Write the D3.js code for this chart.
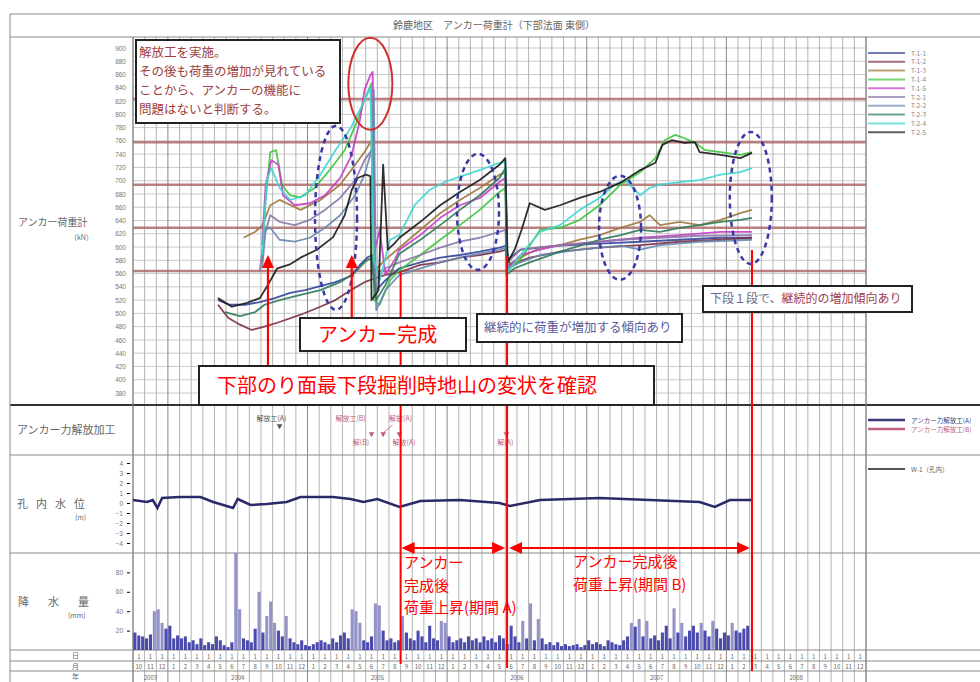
<!DOCTYPE html>
<html>
<head>
<meta charset="utf-8">
<script src="https://cdn.jsdelivr.net/npm/d3@7"></script>
<style>
  body { margin: 0; background: #fff; }
  svg { display: block; font-family: "Noto Sans CJK JP", "Noto Sans", sans-serif; }
</style>
</head>
<body>
<svg id="chart" width="980" height="682"></svg>
<script>
// month index 0 = 2003-10, one grid column per month
var startMonth = 10;
var yearNames = ["2003", "2004", "2005", "2006", "2007", "2008"];
var yearStarts = [0, 3, 15, 27, 39, 51, 63];

var gaugeNames = ["T-1-1", "T-1-2", "T-1-3", "T-1-4", "T-1-5", "T-2-1", "T-2-2", "T-2-3", "T-2-4", "T-2-5"];
var gaugeColors = ["#34449a", "#7a3040", "#a0783c", "#3ec43e", "#c63cc6", "#8a76a8", "#6a88b0", "#2e7a5a", "#3fd6d0", "#1a1a1a"];

// anchor load (kN) : [month index, value]
var loadT1 = [[7.3,520],[8.3,513],[9.6,513],[10.9,517],[12.2,523],[13.5,531],[14.8,535],[16.1,541],[17.4,547],[18.7,556],[19.5,573],[20.2,585],[20.6,588],[20.9,535],[21.7,550],[22.9,568],[24.7,577],[26.4,584],[28.1,588],[29.8,593],[31.5,599],[32.1,602],[32.2,581],[33.3,596],[35.0,599],[36.7,602],[40.1,605],[43.6,608],[47.0,611],[50.5,614],[53.2,614]];
var loadT2 = [[7.3,513],[8.2,493],[9.2,483],[10.2,475],[11.3,480],[12.6,487],[14.4,498],[16.1,510],[17.4,520],[18.7,535],[19.9,547],[20.8,553],[21.7,558],[22.9,562],[24.7,573],[26.4,577],[28.1,584],[29.8,588],[31.5,593],[32.1,596],[32.4,573],[34.1,584],[36.7,593],[40.1,599],[43.6,603],[47.0,608],[50.5,611],[53.2,614]];
var loadT3 = [[9.5,614],[10.5,623],[11.1,632],[11.8,663],[12.6,671],[14.4,656],[16.1,671],[17.8,694],[19.1,724],[20.0,746],[20.5,761],[20.8,565],[21.7,581],[22.9,599],[24.7,626],[26.4,651],[28.1,671],[29.8,689],[31.5,709],[32.0,712],[32.2,573],[33.3,584],[35.0,599],[36.7,603],[38.4,611],[40.1,618],[41.9,629],[43.6,638],[44.4,648],[45.3,633],[47.0,638],[48.7,633],[50.5,641],[52.2,651],[53.2,656]];
var loadT4 = [[11.1,577],[11.4,671],[11.8,743],[12.3,746],[12.8,694],[13.5,678],[14.4,675],[15.6,689],[16.9,716],[18.2,746],[19.3,791],[19.9,822],[20.5,847],[20.7,520],[21.2,513],[22.1,550],[22.9,565],[24.7,588],[26.4,611],[28.1,633],[29.8,656],[31.5,683],[32.0,689],[32.2,565],[33.3,581],[35.0,626],[36.7,629],[38.4,641],[40.1,663],[41.9,694],[43.6,713],[44.9,734],[45.7,761],[46.6,769],[47.4,764],[48.3,757],[49.2,746],[50.5,743],[52.2,739],[53.2,743]];
var loadT5 = [[11.1,603],[11.4,694],[11.9,731],[12.5,724],[12.9,678],[13.9,663],[15.2,666],[16.5,678],[17.8,704],[18.8,739],[19.5,791],[19.9,837],[20.4,859],[20.6,864],[20.8,596],[21.2,626],[21.7,558],[22.5,581],[22.9,596],[24.7,618],[26.4,644],[28.1,663],[29.8,674],[31.5,698],[32.0,704],[32.2,568],[33.3,588],[35.0,596],[36.7,603],[40.1,608],[43.6,614],[47.0,618],[50.5,623],[53.2,623]];
var loadT6 = [[10.9,565],[11.3,618],[11.8,648],[12.6,638],[13.9,633],[15.2,641],[16.5,656],[17.8,674],[19.1,701],[19.9,731],[20.5,746],[20.8,550],[21.7,568],[22.9,577],[24.7,588],[26.4,599],[28.1,608],[29.8,614],[31.5,623],[32.0,626],[32.2,577],[33.3,596],[35.0,600],[38.4,605],[41.9,611],[45.3,614],[48.7,617],[53.2,618]];
var loadT7 = [[11.1,568],[11.4,626],[11.8,629],[12.6,611],[13.9,608],[15.2,614],[16.5,629],[17.8,648],[19.1,678],[19.9,709],[20.5,746],[20.7,837],[20.9,505],[21.7,535],[22.9,558],[24.7,568],[26.4,577],[28.1,584],[29.8,590],[31.5,596],[32.0,599],[32.2,568],[33.3,577],[35.0,588],[38.4,596],[41.9,602],[43.6,596],[45.3,603],[48.7,608],[53.2,611]];
var loadT8 = [[7.9,502],[9.2,496],[10.5,502],[11.3,513],[12.6,520],[14.4,528],[16.1,535],[17.8,547],[19.1,562],[19.9,577],[20.5,584],[20.9,520],[21.7,543],[22.9,590],[24.7,611],[26.4,633],[28.1,656],[29.8,678],[31.5,704],[32.0,719],[32.1,558],[32.8,568],[34.1,577],[36.7,593],[40.1,611],[41.9,618],[43.6,626],[45.3,623],[47.0,629],[48.7,633],[50.5,638],[52.2,641],[53.2,644]];
var loadT9 = [[11.1,588],[11.5,701],[11.9,719],[12.6,689],[13.5,671],[14.8,678],[16.1,709],[17.4,746],[18.7,779],[19.7,814],[20.4,840],[20.7,581],[21.2,550],[22.1,611],[22.9,618],[24.2,663],[25.5,686],[26.8,698],[28.1,706],[29.8,716],[31.5,727],[32.0,728],[32.2,562],[32.8,577],[33.7,596],[35.0,623],[36.7,633],[38.4,656],[40.1,674],[41.4,694],[42.3,701],[43.6,678],[44.4,689],[45.3,694],[47.0,698],[48.7,701],[50.5,709],[52.2,713],[53.2,719]];
var loadT10 = [[7.3,523],[8.5,510],[9.8,516],[10.9,523],[11.5,540],[12.4,568],[13.5,574],[14.4,584],[15.8,596],[17.2,615],[18.2,648],[18.8,686],[19.3,704],[20.0,709],[20.4,707],[20.5,520],[21.1,535],[21.5,724],[21.9,596],[22.5,606],[22.9,614],[24.7,638],[26.4,663],[28.1,683],[29.8,701],[31.5,724],[32.0,734],[32.2,577],[32.8,596],[33.4,626],[34.1,666],[35.4,656],[36.7,663],[38.4,674],[40.1,683],[41.9,697],[43.6,716],[44.9,727],[45.5,754],[46.3,761],[47.4,757],[48.3,758],[48.7,743],[50.5,739],[52.2,734],[53.2,742]];
var loadSeries = [loadT1, loadT2, loadT3, loadT4, loadT5, loadT6, loadT7, loadT8, loadT9, loadT10];

// control levels drawn as brown lines (kN)
var controlLevels = [823, 758, 694, 629, 564];

// borehole water level (m)
var waterLevel = [[0,0.3],[1.2,0.1],[1.7,0.3],[2.1,-0.5],[2.5,0.5],[4.0,0.6],[5.8,0.6],[6.9,0.1],[8.6,-0.5],[9.0,0.4],[10.1,-0.2],[11.5,-0.1],[13.2,0.1],[14.4,0.6],[17.2,0.6],[18.7,0.4],[19.8,0.1],[21.0,0.4],[22.9,-0.4],[24.7,0.2],[28.1,0.3],[31.5,0.0],[32.4,-0.3],[35.0,0.3],[40.1,0.5],[44.4,0.3],[48.7,0.1],[50.0,-0.4],[51.3,0.3],[53.2,0.3]];

// precipitation (mm), three values per month from 2003-10
var rainfall = [18,15,14, 12,16,40, 42,28,22, 25,12,15, 12,14,8, 10,6,12, 5,8,6, 14,10,5, 3,8,100,
  42,12,10, 8,22,60, 18,35,50, 28,20,14, 35,12,8, 6,10,5, 4,6,8, 10,8,6, 12,8,15, 18,12,42,
  40,28,10, 8,14,48, 46,20,10, 12,8,10, 35,18,12, 10,20,14, 8,25,12, 10,30,28, 14,8,10,
  12,8,14, 10,12,8, 14,10,12, 8,15,12, 6,25,14, 8,30,12, 48,10,32, 12,6,8, 5,8,4, 6,4,5,
  6,3,5, 10,6,8, 6,4,10, 8,6,5, 10,14,28, 24,32,14, 30,12,15, 10,18,25, 12,43,18, 28,14,20,
  25,18,28, 20,14,30, 22,12,18, 15,28,20, 18,22,25];

// events (month index)
var arrowMonths = [11.6, 18.8];
var periodLines = [23.0, 32.15, 53.2];
var releaseTop = [[11.9, "解放工(A)", 0], [18.7, "解放工(B)", 1], [23.0, "解放(A)", 1]];
var releaseBottom = [[19.6, "解(B)", 1], [23.3, "解放(A)", 1], [32.0, "解(A)", 1]];
var releaseMarks = [12.6, 20.5, 21.5, 22.9, 32.1];

(function() {
  var svg = d3.select("#chart");
  var left = 133, right = 866;

  var x = d3.scaleLinear().domain([0, 63]).range([left, right]);
  var yLoad = d3.scaleLinear().domain([380, 900]).range([393, 48]);
  var yWater = d3.scaleLinear().domain([-4, 4]).range([543, 463]);
  var yRain = d3.scaleLinear().domain([0, 100]).range([650, 553]);

  var grid = svg.append("g");
  // horizontal grid in main panel
  grid.selectAll("line.h")
    .data(d3.range(380, 901, 20))
    .enter().append("line")
      .attr("x1", left).attr("x2", right)
      .attr("y1", function(d) { return yLoad(d); })
      .attr("y2", function(d) { return yLoad(d); })
      .attr("stroke", "#c9c9c9").attr("stroke-width", 1);
  // month columns
  grid.selectAll("line.v")
    .data(d3.range(0, 64))
    .enter().append("line")
      .attr("x1", function(d) { return x(d); })
      .attr("x2", function(d) { return x(d); })
      .attr("y1", 37).attr("y2", 682)
      .attr("stroke", function(d) { return yearStarts.indexOf(d) >= 0 ? "#888" : "#b4b4b4"; })
      .attr("stroke-width", 1);

  // frame
  var frame = svg.append("g").attr("stroke", "#8a8a8a").attr("fill", "none");
  [14, 37, 455, 553, 650, 661, 671].forEach(function(yy) {
    frame.append("line").attr("x1", 10).attr("x2", 980).attr("y1", yy).attr("y2", yy);
  });
  frame.append("line").attr("x1", 10).attr("x2", 980).attr("y1", 405).attr("y2", 405)
    .attr("stroke", "#333").attr("stroke-width", 2);
  [10, left, right].forEach(function(xx) {
    frame.append("line").attr("x1", xx).attr("x2", xx).attr("y1", xx === 10 ? 14 : 37).attr("y2", 682);
  });

  // title
  svg.append("text").attr("x", 494).attr("y", 29).attr("text-anchor", "middle")
    .attr("font-size", 10).attr("fill", "#666")
    .text("鈴鹿地区　アンカー荷重計（下部法面 東側）");

  // left labels
  var lab = svg.append("g").attr("fill", "#666");
  lab.append("text").attr("x", 18).attr("y", 226).attr("font-size", 10).text("アンカー荷重計");
  lab.append("text").attr("x", 70).attr("y", 240).attr("font-size", 7).text("（kN）");
  lab.append("text").attr("x", 17).attr("y", 434).attr("font-size", 11).text("アンカー力解放加工");
  lab.append("text").attr("x", 17).attr("y", 508).attr("font-size", 11).attr("letter-spacing", 8).text("孔内水位");
  lab.append("text").attr("x", 75).attr("y", 520).attr("font-size", 7).text("(m)");
  lab.append("text").attr("x", 18).attr("y", 606).attr("font-size", 11).attr("letter-spacing", 19).text("降水量");
  lab.append("text").attr("x", 68).attr("y", 618).attr("font-size", 7).text("(mm)");
  ["日", "月", "年"].forEach(function(t, i) {
    lab.append("text").attr("x", 72).attr("y", 658 + i * 10.5).attr("font-size", 7).text(t);
  });

  // axes
  function styleAxis(g) {
    g.select(".domain").remove();
    g.selectAll("text").attr("fill", "#777").attr("font-size", 6.5);
  }
  svg.append("g").attr("transform", "translate(" + (left - 3) + ",0)")
    .call(d3.axisLeft(yLoad).tickValues(d3.range(380, 901, 20)).tickSize(0).tickPadding(4))
    .call(styleAxis);
  svg.append("g").attr("transform", "translate(" + (left - 3) + ",0)")
    .call(d3.axisLeft(yWater).tickValues(d3.range(-4, 5, 1)).tickSize(3).tickPadding(4))
    .call(styleAxis);
  svg.append("g").attr("transform", "translate(" + (left - 3) + ",0)")
    .call(d3.axisLeft(yRain).tickValues([20, 40, 60, 80]).tickSize(3).tickPadding(4))
    .call(styleAxis);

  // control level lines
  svg.selectAll("line.level")
    .data(controlLevels)
    .enter().append("line")
      .attr("x1", left).attr("x2", right)
      .attr("y1", function(d) { return yLoad(d); })
      .attr("y2", function(d) { return yLoad(d); })
      .attr("stroke", "#b06a6a").attr("stroke-width", 2.5).attr("opacity", 0.85);

  // date rows
  var dates = svg.append("g").attr("fill", "#666").attr("font-size", 6).attr("text-anchor", "middle");
  d3.range(0, 63).forEach(function(m) {
    dates.append("text").attr("x", x(m + 0.5)).attr("y", 658.5).text("1");
    dates.append("text").attr("x", x(m + 0.5)).attr("y", 669).text((startMonth - 1 + m) % 12 + 1);
  });
  yearNames.forEach(function(name, i) {
    dates.append("text").attr("x", x((yearStarts[i] + yearStarts[i + 1]) / 2)).attr("y", 680).text(name);
  });

  // rainfall bars
  svg.append("g").selectAll("rect")
    .data(rainfall)
    .enter().append("rect")
      .attr("x", function(d, i) { return x(i / 3) + 0.4; })
      .attr("width", x(1 / 3) - x(0) - 0.8)
      .attr("y", function(d) { return yRain(d); })
      .attr("height", function(d) { return yRain(0) - yRain(d); })
      .attr("fill", function(d) { return d > 25 ? "#8080c0" : "#2c2ca0"; })
      .attr("opacity", 0.85);

  // water level
  var lineW = d3.line().x(function(d) { return x(d[0]); }).y(function(d) { return yWater(d[1]); });
  svg.append("path").datum(waterLevel)
    .attr("d", lineW).attr("fill", "none")
    .attr("stroke", "#2a2a6a").attr("stroke-width", 2.5);

  // anchor loads
  var lineL = d3.line().x(function(d) { return x(d[0]); }).y(function(d) { return yLoad(d[1]); });
  svg.append("g").selectAll("path")
    .data(loadSeries)
    .enter().append("path")
      .attr("d", lineL)
      .attr("fill", "none")
      .attr("stroke", function(d, i) { return gaugeColors[i]; })
      .attr("stroke-width", 1.8)
      .attr("stroke-linejoin", "round")
      .attr("opacity", 0.9);

  // legends
  var leg = svg.append("g");
  gaugeNames.forEach(function(name, i) {
    var yy = 53 + i * 8.8;
    leg.append("line").attr("x1", 868).attr("x2", 905).attr("y1", yy).attr("y2", yy)
      .attr("stroke", gaugeColors[i]).attr("stroke-width", 2).attr("opacity", 0.7);
    leg.append("text").attr("x", 911).attr("y", yy + 2.5).attr("font-size", 6.5).attr("fill", "#888").text(name);
  });
  [["アンカー力解放工(A)", "#3a3a7a", 420], ["アンカー力解放工(B)", "#c06080", 429]].forEach(function(d) {
    leg.append("line").attr("x1", 868).attr("x2", 905).attr("y1", d[2]).attr("y2", d[2])
      .attr("stroke", d[1]).attr("stroke-width", 2.5);
    leg.append("text").attr("x", 911).attr("y", d[2] + 2.5).attr("font-size", 6.5).attr("fill", d[1]).text(d[0]);
  });
  leg.append("line").attr("x1", 868).attr("x2", 905).attr("y1", 469).attr("y2", 469)
    .attr("stroke", "#555").attr("stroke-width", 2);
  leg.append("text").attr("x", 911).attr("y", 471.5).attr("font-size", 6.5).attr("fill", "#666").text("W-1（孔内）");

  // release events
  var rel = svg.append("g").attr("font-size", 7).attr("text-anchor", "middle");
  releaseTop.forEach(function(d) {
    rel.append("text").attr("x", x(d[0])).attr("y", 421).attr("fill", d[2] ? "#c06080" : "#555").text(d[1]);
  });
  releaseBottom.forEach(function(d) {
    rel.append("text").attr("x", x(d[0])).attr("y", 445).attr("fill", "#c06080").text(d[1]);
  });
  releaseMarks.forEach(function(m, i) {
    rel.append("path")
      .attr("d", d3.symbol().type(d3.symbolTriangle).size(14)())
      .attr("transform", "translate(" + x(m) + "," + (i === 0 ? 426 : 434) + ") rotate(180)")
      .attr("fill", i === 0 ? "#555" : "#c06080");
  });
  rel.append("line").attr("x1", x(21.5)).attr("y1", 433).attr("x2", x(22.3)).attr("y2", 425)
    .attr("stroke", "#c06080").attr("stroke-width", 0.8);

  // dashed ellipses
  var ell = svg.append("g").attr("fill", "none");
  [[17.45, 644, 21, 92], [29.65, 653, 21, 58], [41.86, 629, 21, 52], [53.1, 674, 21, 66]].forEach(function(d) {
    ell.append("ellipse").attr("cx", x(d[0])).attr("cy", yLoad(d[1])).attr("rx", d[2]).attr("ry", d[3])
      .attr("stroke", "#3838a8").attr("stroke-width", 2.5).attr("stroke-dasharray", "5,4");
  });
  ell.append("ellipse").attr("cx", x(20.4)).attr("cy", yLoad(846)).attr("rx", 22).attr("ry", 46)
    .attr("stroke", "#d03030").attr("stroke-width", 2);

  // red annotation lines and arrows
  var red = "#ff0000";
  var ann = svg.append("g");
  arrowMonths.forEach(function(m, i) {
    var xx = x(m), y0 = i === 0 ? 367 : 318;
    ann.append("line").attr("x1", xx).attr("x2", xx).attr("y1", y0).attr("y2", 266)
      .attr("stroke", red).attr("stroke-width", 2.2);
    ann.append("path").attr("d", "M" + (xx - 6) + ",268L" + xx + ",255L" + (xx + 6) + ",268Z").attr("fill", red);
  });
  periodLines.forEach(function(m, i) {
    ann.append("line").attr("x1", x(m)).attr("x2", x(m))
      .attr("y1", [272, 256, 250][i]).attr("y2", [664, 668, 671][i])
      .attr("stroke", red).attr("stroke-width", 2);
  });
  function dblArrow(a, b, yy) {
    ann.append("line").attr("x1", a + 10).attr("x2", b - 10).attr("y1", yy).attr("y2", yy)
      .attr("stroke", red).attr("stroke-width", 2.2);
    ann.append("path").attr("d", "M" + a + "," + yy + "L" + (a + 13) + "," + (yy - 6) + "L" + (a + 13) + "," + (yy + 6) + "Z").attr("fill", red);
    ann.append("path").attr("d", "M" + b + "," + yy + "L" + (b - 13) + "," + (yy - 6) + "L" + (b - 13) + "," + (yy + 6) + "Z").attr("fill", red);
  }
  dblArrow(x(periodLines[0]) + 1, x(periodLines[1]) - 2, 548);
  dblArrow(x(periodLines[1]) + 2, x(periodLines[2]) - 2, 548);

  var rt = ann.append("g").attr("fill", red).attr("font-size", 15);
  [["アンカー", 404, 568], ["完成後", 404, 591], ["荷重上昇(期間 A)", 404, 613],
   ["アンカー完成後", 573, 567], ["荷重上昇(期間 B)", 573, 590]].forEach(function(d) {
    rt.append("text").attr("x", d[1]).attr("y", d[2]).text(d[0]);
  });

  // boxes
  function box(x0, y0, w, h, sw) {
    ann.append("rect").attr("x", x0).attr("y", y0).attr("width", w).attr("height", h)
      .attr("fill", "#fff").attr("stroke", "#222").attr("stroke-width", sw);
  }
  box(136, 40, 204, 83, 2);
  var tl = ann.append("g").attr("fill", "#a04040").attr("font-size", 12.5);
  ["解放工を実施。", "その後も荷重の増加が見れている", "ことから、アンカーの機能に", "問題はないと判断する。"].forEach(function(t, i) {
    tl.append("text").attr("x", 139).attr("y", 57 + i * 19).text(t);
  });

  box(300, 318, 166, 33, 2);
  ann.append("text").attr("x", 318).attr("y", 342).attr("fill", red).attr("font-size", 20).text("アンカー完成");
  box(199, 366, 455, 39, 2);
  ann.append("text").attr("x", 217).attr("y", 393).attr("fill", red).attr("font-size", 20).text("下部のり面最下段掘削時地山の変状を確認");

  box(477, 314, 205, 28, 2);
  ann.append("text").attr("x", 484).attr("y", 332).attr("fill", "#5a5a9a").attr("font-size", 12.5).text("継続的に荷重が増加する傾向あり");
  box(703, 286, 209, 26, 2);
  var t2 = ann.append("text").attr("x", 710).attr("y", 303).attr("font-size", 12);
  t2.append("tspan").attr("fill", "#6a6a8a").text("下段１段で、");
  t2.append("tspan").attr("fill", "#a04050").text("継続的の増加傾向あり");
})();
</script>
</body>
</html>
